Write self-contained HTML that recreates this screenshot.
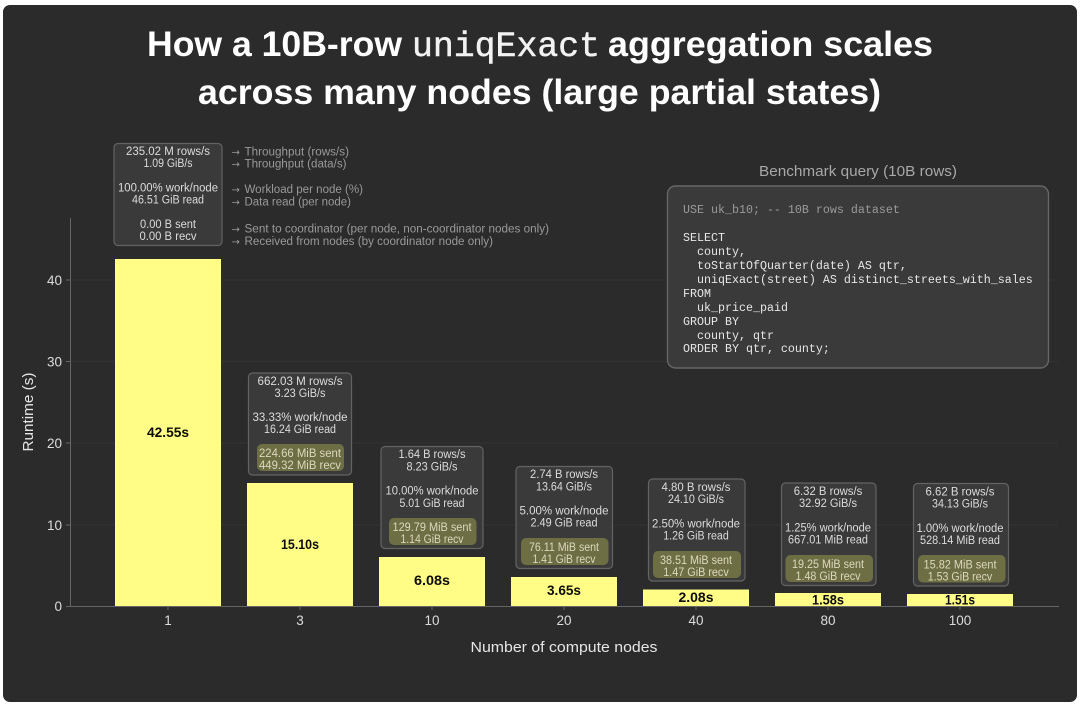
<!DOCTYPE html>
<html><head><meta charset="utf-8"><style>
html,body{margin:0;padding:0;background:#fff;width:1080px;height:708px;overflow:hidden}
svg{display:block}
text{font-family:"Liberation Sans",sans-serif}
.t{font-weight:700;font-size:35px;fill:#fff}
.tm{font-family:"Liberation Mono",monospace;font-size:35px;fill:#f2f2f2;stroke:#f2f2f2;stroke-width:.5}
.b{font-size:11.5px;fill:#dcdcdc;text-anchor:middle}
.g{font-size:11.5px;fill:#dbd9bd;text-anchor:middle}
.l{font-size:11.5px;fill:#999}
.ar{font-family:"DejaVu Sans",sans-serif;font-size:10px;fill:#999}
.v{font-size:13.5px;font-weight:700;fill:#0c0c0c;text-anchor:middle}
.k{font-size:13.5px;fill:#dcdcdc;text-anchor:middle}
.y{font-size:13.5px;fill:#dcdcdc;text-anchor:end}
.a{font-size:14.5px;fill:#e6e6e6;text-anchor:middle}
.m{font-family:"Liberation Mono",monospace;font-size:11.67px;fill:#e6e6e6;white-space:pre}
.box{fill:#3a3a3a;stroke:#636363;stroke-width:1.2}
.gr{fill:#6e6e44}
.bar{fill:#fffd85}
.grid{stroke:#333;stroke-width:1}
.ax{stroke:#666;stroke-width:1}
</style></head><body>
<svg width="1080" height="708" viewBox="0 0 1080 708" xmlns="http://www.w3.org/2000/svg">
<rect x="3" y="5" width="1074" height="697" rx="7" fill="#2b2b2b"/>

<text class="t" x="147" y="56" textLength="255" lengthAdjust="spacingAndGlyphs">How a 10B-row</text>
<text class="tm" x="412" y="56" textLength="188" lengthAdjust="spacingAndGlyphs">uniqExact</text>
<text class="t" x="608" y="56" textLength="325" lengthAdjust="spacingAndGlyphs">aggregation scales</text>
<text class="t" x="198" y="104" textLength="683" lengthAdjust="spacingAndGlyphs">across many nodes (large partial states)</text>

<line class="grid" x1="70" y1="525" x2="1058" y2="525"/>
<line class="grid" x1="70" y1="443" x2="1058" y2="443"/>
<line class="grid" x1="70" y1="361.5" x2="1058" y2="361.5"/>
<line class="grid" x1="70" y1="280" x2="1058" y2="280"/>
<line class="ax" x1="70.5" y1="218" x2="70.5" y2="606"/>
<line class="ax" x1="66" y1="606.5" x2="1059" y2="606.5"/>
<g class="ax">
<line class="ax" x1="66" y1="525" x2="70" y2="525"/><line class="ax" x1="66" y1="443" x2="70" y2="443"/><line class="ax" x1="66" y1="361.5" x2="70" y2="361.5"/><line class="ax" x1="66" y1="280" x2="70" y2="280"/>
<line class="ax" x1="168" y1="606" x2="168" y2="610"/><line class="ax" x1="300" y1="606" x2="300" y2="610"/><line class="ax" x1="432" y1="606" x2="432" y2="610"/><line class="ax" x1="564" y1="606" x2="564" y2="610"/><line class="ax" x1="696" y1="606" x2="696" y2="610"/><line class="ax" x1="828" y1="606" x2="828" y2="610"/><line class="ax" x1="960" y1="606" x2="960" y2="610"/>
</g>
<text class="y" x="62" y="611">0</text><text class="y" x="62" y="530">10</text><text class="y" x="62" y="448">20</text><text class="y" x="62" y="366.5">30</text><text class="y" x="62" y="285">40</text>
<text class="k" x="168" y="625">1</text><text class="k" x="300" y="625">3</text><text class="k" x="432" y="625">10</text><text class="k" x="564" y="625">20</text><text class="k" x="696" y="625">40</text><text class="k" x="828" y="625">80</text><text class="k" x="960" y="625">100</text>
<text class="a" x="564" y="652" textLength="187" lengthAdjust="spacingAndGlyphs">Number of compute nodes</text>
<text class="a" transform="translate(33 412) rotate(-90)" textLength="79" lengthAdjust="spacingAndGlyphs">Runtime (s)</text>

<rect class="bar" x="115" y="259" width="106" height="347"/>
<rect class="bar" x="247" y="483" width="106" height="123"/>
<rect class="bar" x="379" y="557" width="106" height="49"/>
<rect class="bar" x="511" y="577" width="106" height="29"/>
<rect class="bar" x="643" y="589.5" width="106" height="16.5"/>
<rect class="bar" x="775" y="593" width="106" height="13"/>
<rect class="bar" x="907" y="594" width="106" height="12"/>
<text class="v" x="168" y="437" textLength="42" lengthAdjust="spacingAndGlyphs">42.55s</text>
<text class="v" x="300" y="549" textLength="38" lengthAdjust="spacingAndGlyphs">15.10s</text>
<text class="v" x="432" y="585" textLength="36" lengthAdjust="spacingAndGlyphs">6.08s</text>
<text class="v" x="564" y="595" textLength="34" lengthAdjust="spacingAndGlyphs">3.65s</text>
<text class="v" x="696" y="602" textLength="35" lengthAdjust="spacingAndGlyphs">2.08s</text>
<text class="v" x="828" y="604.5" textLength="32" lengthAdjust="spacingAndGlyphs">1.58s</text>
<text class="v" x="960" y="604.5" textLength="30" lengthAdjust="spacingAndGlyphs">1.51s</text>

<rect class="box" x="114" y="143.5" width="108" height="102" rx="4"/>
<text class="b" x="168" y="155" textLength="84" lengthAdjust="spacingAndGlyphs">235.02 M rows/s</text>
<text class="b" x="168" y="167" textLength="49" lengthAdjust="spacingAndGlyphs">1.09 GiB/s</text>
<text class="b" x="168" y="191.500" textLength="100" lengthAdjust="spacingAndGlyphs">100.00% work/node</text>
<text class="b" x="168" y="203.500" textLength="72" lengthAdjust="spacingAndGlyphs">46.51 GiB read</text>
<text class="b" x="168" y="228" textLength="56" lengthAdjust="spacingAndGlyphs">0.00 B sent</text>
<text class="b" x="168" y="240" textLength="57" lengthAdjust="spacingAndGlyphs">0.00 B recv</text>

<rect class="box" x="248.500" y="373" width="103" height="102" rx="4"/>
<rect class="gr" x="257" y="444" width="87" height="27" rx="5"/>
<text class="b" x="300" y="385" textLength="85" lengthAdjust="spacingAndGlyphs">662.03 M rows/s</text>
<text class="b" x="300" y="397" textLength="51" lengthAdjust="spacingAndGlyphs">3.23 GiB/s</text>
<text class="b" x="300" y="421" textLength="95" lengthAdjust="spacingAndGlyphs">33.33% work/node</text>
<text class="b" x="300" y="433" textLength="72" lengthAdjust="spacingAndGlyphs">16.24 GiB read</text>
<text class="g" x="300" y="457" textLength="82" lengthAdjust="spacingAndGlyphs">224.66 MiB sent</text>
<text class="g" x="300" y="469" textLength="82" lengthAdjust="spacingAndGlyphs">449.32 MiB recv</text>

<rect class="box" x="381" y="446.500" width="102" height="102" rx="4"/>
<rect class="gr" x="389" y="518" width="87.500" height="27" rx="5"/>
<text class="b" x="432" y="458" textLength="67" lengthAdjust="spacingAndGlyphs">1.64 B rows/s</text>
<text class="b" x="432" y="470.500" textLength="51" lengthAdjust="spacingAndGlyphs">8.23 GiB/s</text>
<text class="b" x="432" y="494.500" textLength="93" lengthAdjust="spacingAndGlyphs">10.00% work/node</text>
<text class="b" x="432" y="507" textLength="65" lengthAdjust="spacingAndGlyphs">5.01 GiB read</text>
<text class="g" x="432" y="531" textLength="79" lengthAdjust="spacingAndGlyphs">129.79 MiB sent</text>
<text class="g" x="432" y="543" textLength="63" lengthAdjust="spacingAndGlyphs">1.14 GiB recv</text>

<rect class="box" x="516" y="466.500" width="96.500" height="102" rx="4"/>
<rect class="gr" x="521" y="538" width="87.500" height="27" rx="5"/>
<text class="b" x="564" y="478" textLength="68" lengthAdjust="spacingAndGlyphs">2.74 B rows/s</text>
<text class="b" x="564" y="490.500" textLength="56" lengthAdjust="spacingAndGlyphs">13.64 GiB/s</text>
<text class="b" x="564" y="514.500" textLength="89" lengthAdjust="spacingAndGlyphs">5.00% work/node</text>
<text class="b" x="564" y="526.500" textLength="67" lengthAdjust="spacingAndGlyphs">2.49 GiB read</text>
<text class="g" x="564" y="551" textLength="70" lengthAdjust="spacingAndGlyphs">76.11 MiB sent</text>
<text class="g" x="564" y="563" textLength="63" lengthAdjust="spacingAndGlyphs">1.41 GiB recv</text>

<rect class="box" x="648.500" y="479" width="96.500" height="102" rx="4"/>
<rect class="gr" x="653" y="551" width="88" height="27" rx="5"/>
<text class="b" x="696" y="491" textLength="69" lengthAdjust="spacingAndGlyphs">4.80 B rows/s</text>
<text class="b" x="696" y="503" textLength="56" lengthAdjust="spacingAndGlyphs">24.10 GiB/s</text>
<text class="b" x="696" y="527.500" textLength="88" lengthAdjust="spacingAndGlyphs">2.50% work/node</text>
<text class="b" x="696" y="539.500" textLength="65.500" lengthAdjust="spacingAndGlyphs">1.26 GiB read</text>
<text class="g" x="696" y="564" textLength="72" lengthAdjust="spacingAndGlyphs">38.51 MiB sent</text>
<text class="g" x="696" y="576" textLength="65.500" lengthAdjust="spacingAndGlyphs">1.47 GiB recv</text>

<rect class="box" x="781.500" y="483" width="94.500" height="102.500" rx="4"/>
<rect class="gr" x="785.500" y="555" width="87.500" height="27" rx="5"/>
<text class="b" x="828" y="495" textLength="68.500" lengthAdjust="spacingAndGlyphs">6.32 B rows/s</text>
<text class="b" x="828" y="507" textLength="58" lengthAdjust="spacingAndGlyphs">32.92 GiB/s</text>
<text class="b" x="828" y="531.500" textLength="86" lengthAdjust="spacingAndGlyphs">1.25% work/node</text>
<text class="b" x="828" y="543.500" textLength="80" lengthAdjust="spacingAndGlyphs">667.01 MiB read</text>
<text class="g" x="828" y="568" textLength="72" lengthAdjust="spacingAndGlyphs">19.25 MiB sent</text>
<text class="g" x="828" y="580" textLength="65" lengthAdjust="spacingAndGlyphs">1.48 GiB recv</text>

<rect class="box" x="913.500" y="483.500" width="95" height="102.500" rx="4"/>
<rect class="gr" x="918" y="555" width="87.500" height="27.500" rx="5"/>
<text class="b" x="960" y="495.500" textLength="69" lengthAdjust="spacingAndGlyphs">6.62 B rows/s</text>
<text class="b" x="960" y="507.500" textLength="56" lengthAdjust="spacingAndGlyphs">34.13 GiB/s</text>
<text class="b" x="960" y="532" textLength="87" lengthAdjust="spacingAndGlyphs">1.00% work/node</text>
<text class="b" x="960" y="544" textLength="80" lengthAdjust="spacingAndGlyphs">528.14 MiB read</text>
<text class="g" x="960" y="568.500" textLength="73" lengthAdjust="spacingAndGlyphs">15.82 MiB sent</text>
<text class="g" x="960" y="580.500" textLength="64.500" lengthAdjust="spacingAndGlyphs">1.53 GiB recv</text>

<text class="ar" x="231.500" y="155.500">→</text>
<text class="l" x="244.500" y="155.500" textLength="104.500" lengthAdjust="spacingAndGlyphs">Throughput (rows/s)</text>
<text class="ar" x="231.500" y="167.500">→</text>
<text class="l" x="244.500" y="167.500" textLength="102" lengthAdjust="spacingAndGlyphs">Throughput (data/s)</text>
<text class="ar" x="231.500" y="193">→</text>
<text class="l" x="244.500" y="193" textLength="118.500" lengthAdjust="spacingAndGlyphs">Workload per node (%)</text>
<text class="ar" x="231.500" y="205.500">→</text>
<text class="l" x="244.500" y="205.500" textLength="106.500" lengthAdjust="spacingAndGlyphs">Data read (per node)</text>
<text class="ar" x="231.500" y="232.500">→</text>
<text class="l" x="244.500" y="232.500" textLength="304.500" lengthAdjust="spacingAndGlyphs">Sent to coordinator (per node, non-coordinator nodes only)</text>
<text class="ar" x="231.500" y="245">→</text>
<text class="l" x="244.500" y="245" textLength="248.500" lengthAdjust="spacingAndGlyphs">Received from nodes (by coordinator node only)</text>

<text x="759" y="176" font-size="14.500" fill="#a8a8a8" textLength="198" lengthAdjust="spacingAndGlyphs">Benchmark query (10B rows)</text>
<rect x="667.500" y="186" width="381" height="182" rx="8" fill="#3a3a3a" stroke="#666" stroke-width="1.400"/>
<text class="m" x="683" y="213" style="fill:#9a9a9a">USE uk_b10; -- 10B rows dataset</text>
<text class="m" x="683" y="241">SELECT</text>
<text class="m" x="697" y="255">county,</text>
<text class="m" x="697" y="269">toStartOfQuarter(date) AS qtr,</text>
<text class="m" x="697" y="283">uniqExact(street) AS distinct_streets_with_sales</text>
<text class="m" x="683" y="297">FROM</text>
<text class="m" x="697" y="311">uk_price_paid</text>
<text class="m" x="683" y="325">GROUP BY</text>
<text class="m" x="697" y="339">county, qtr</text>
<text class="m" x="683" y="352">ORDER BY qtr, county;</text>
</svg>
</body></html>
